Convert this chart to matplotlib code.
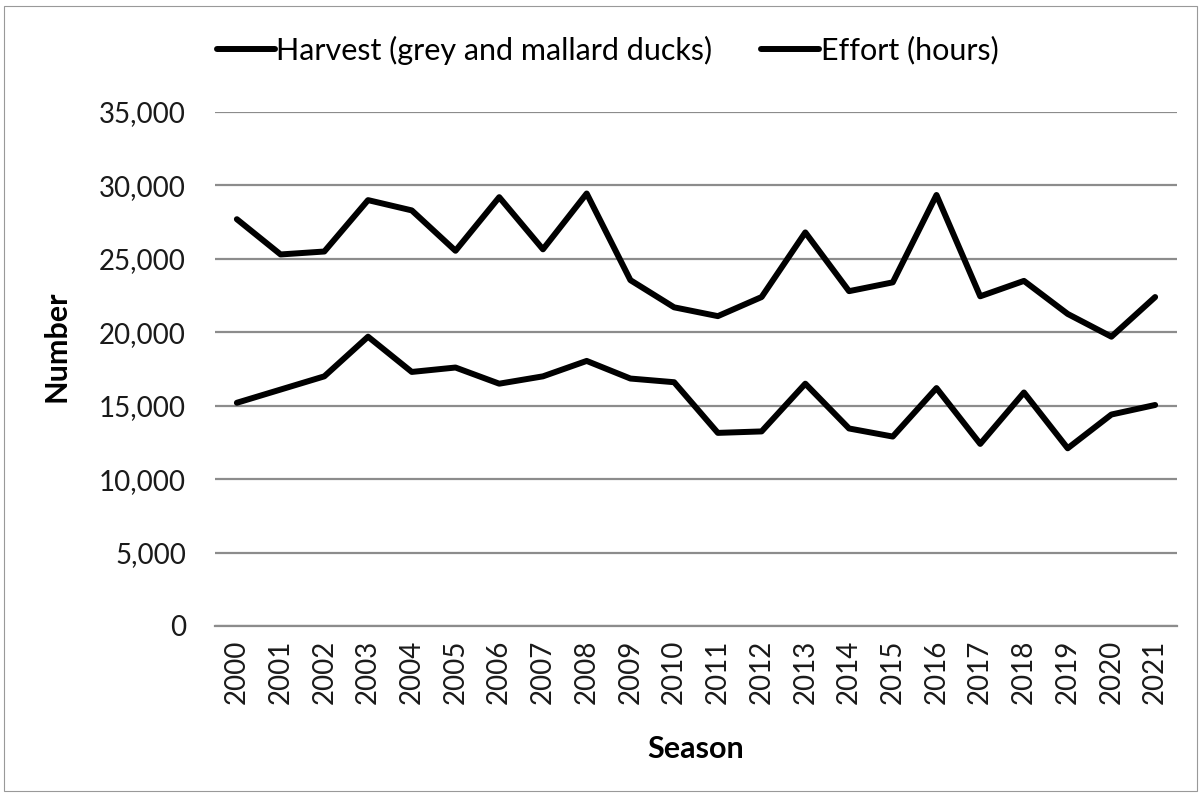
import matplotlib.pyplot as plt
from matplotlib.ticker import FuncFormatter
from matplotlib.patches import Rectangle

plt.rcParams['font.family'] = ['Lato', 'DejaVu Sans']

# Season data
seasons = [str(y) for y in range(2000, 2022)]
harvest = [15200, 16100, 17000, 19700, 17300, 17600, 16500, 17000, 18050, 16850, 16600,
           13150, 13250, 16500, 13450, 12900, 16200, 12400, 15900, 12100, 14400, 15050]
effort = [27700, 25300, 25500, 29000, 28300, 25550, 29200, 25650, 29450, 23550, 21700,
          21100, 22400, 26800, 22800, 23400, 29350, 22450, 23500, 21250, 19700, 22400]

fig = plt.figure(figsize=(12.03, 7.93), dpi=100)
ax = fig.add_axes([215 / 1203, 1 - 626 / 793, (1177 - 215) / 1203, (626 - 112) / 793])

x = list(range(len(seasons)))
ax.plot(x, harvest, color='black', linewidth=4.3, solid_capstyle='round',
        label='Harvest (grey and mallard ducks)', zorder=3)
ax.plot(x, effort, color='black', linewidth=4.3, solid_capstyle='round',
        label='Effort (hours)', zorder=3)

ax.set_xlim(-0.5, len(seasons) - 0.5)
ax.set_ylim(0, 35000)
ax.set_yticks(range(0, 35001, 5000))
ax.yaxis.set_major_formatter(FuncFormatter(lambda v, p: f'{int(v):,}'))
ax.set_xticks(x)
ax.set_xticklabels(seasons, rotation=90)
ax.tick_params(axis='both', length=0, labelsize=20, colors='#1a1a1a')
ax.tick_params(axis='y', pad=21)
ax.tick_params(axis='x', pad=10)

ax.grid(axis='y', color='#8c8c8c', linewidth=1.6, zorder=1)
for s in ['top', 'right', 'left']:
    ax.spines[s].set_visible(False)
ax.spines['bottom'].set_color('#8c8c8c')
ax.spines['bottom'].set_linewidth(1.6)

ax.set_ylabel('Number', fontsize=22, fontweight='bold')
ax.yaxis.set_label_coords(-0.15, 0.545)
ax.set_xlabel('Season', fontsize=22, fontweight='bold')
ax.xaxis.set_label_coords(0.5, -0.212)

fig.legend(loc='center', bbox_to_anchor=(0.505, 1 - 50 / 793), ncol=2, frameon=False,
           fontsize=22, handlelength=1.9, handletextpad=0.05, columnspacing=1.6)

fig.patches.append(Rectangle((4 / 1203, 0.002), 1 - 10 / 1203, 1 - 8 / 793,
                             transform=fig.transFigure, fill=False,
                             edgecolor='#999999', linewidth=0.8))

plt.savefig('out.png', dpi=100)
